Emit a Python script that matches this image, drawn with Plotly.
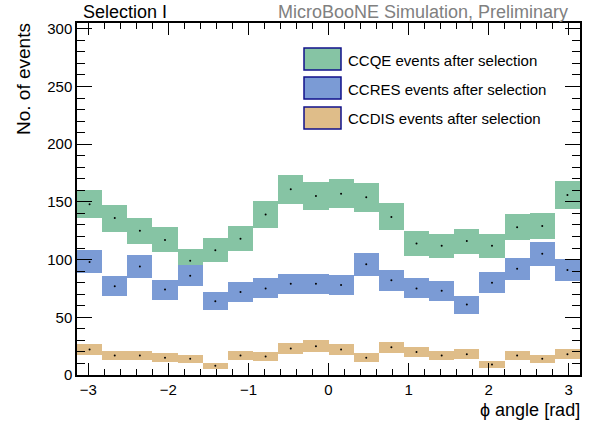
import numpy as np
import plotly.graph_objects as go

# phi binning: 20 equal bins over [-pi, pi]
n_bins = 20
edges = np.linspace(-np.pi, np.pi, n_bins + 1)
centers = 0.5 * (edges[:-1] + edges[1:])
bin_width = edges[1] - edges[0]

ccqe = [148, 136, 125, 117, 99, 108, 118, 139, 161, 155,
        157, 154, 137, 114, 112, 116, 112, 128, 129, 156]
ccres = [98, 77, 94, 74, 86, 64, 72, 75, 79, 79,
         78, 96, 82, 75, 73, 61, 80, 92, 105, 91]
ccdis = [22, 17, 17, 15, 14, 8, 17, 16, 23, 25,
         22, 15, 24, 20, 17, 18, 9, 17, 14, 18]

series = [
    ("CCQE events after selection", ccqe, "#86c4a4"),
    ("CCRES events after selection", ccres, "#7b9bd5"),
    ("CCDIS events after selection", ccdis, "#dfbd89"),
]

fig = go.Figure()
for name, vals, col in series:
    v = np.array(vals, dtype=float)
    err = np.sqrt(v)  # Poisson statistical uncertainty
    fig.add_trace(go.Bar(
        x=centers, y=2 * err, base=v - err, width=bin_width,
        marker=dict(color=col, line=dict(width=0)),
        name=name, showlegend=False, hoverinfo="skip",
    ))
for name, vals, col in series:
    fig.add_trace(go.Scatter(
        x=centers, y=vals, mode="markers",
        marker=dict(color="black", size=2),
        showlegend=False, hoverinfo="skip",
    ))

W, H = 594, 428
L, R, T, B = 77, 580, 23, 375


def px(x):
    return (x - L) / (R - L)


def py(y):
    return (B - y) / (B - T)


# legend: filled boxes with navy border plus labels
shapes = []
annots = []
legend_rows = [(48, 70, 60), (77, 99, 89), (107, 129, 118)]
for (name, _, col), (y0, y1, yt) in zip(series, legend_rows):
    shapes.append(dict(type="rect", xref="paper", yref="paper",
                       x0=px(304), x1=px(341), y0=py(y1), y1=py(y0),
                       fillcolor=col, line=dict(color="#10108a", width=1.5)))
    annots.append(dict(xref="paper", yref="paper", x=px(346), y=py(yt),
                       text=name, showarrow=False, xanchor="left", yanchor="middle",
                       font=dict(size=15, color="black")))

annots.append(dict(xref="paper", yref="paper", x=px(81), y=py(12), text="Selection I",
                   showarrow=False, xanchor="left", yanchor="middle",
                   font=dict(size=18, color="black")))
annots.append(dict(xref="paper", yref="paper", x=px(570), y=py(12),
                   text="MicroBooNE Simulation, Preliminary",
                   showarrow=False, xanchor="right", yanchor="middle",
                   font=dict(size=18, color="#808080")))
annots.append(dict(xref="paper", yref="paper", x=px(582), y=py(410), text="ϕ angle [rad]",
                   showarrow=False, xanchor="right", yanchor="middle",
                   font=dict(size=18, color="black")))
annots.append(dict(xref="paper", yref="paper", x=px(23), y=py(21), text="No. of events",
                   showarrow=False, xanchor="center", yanchor="top", textangle=-90,
                   font=dict(size=19, color="black")))

fig.update_layout(
    width=W, height=H,
    margin=dict(l=L, r=W - R, t=T, b=H - B, pad=0),
    paper_bgcolor="white", plot_bgcolor="white",
    barmode="overlay", bargap=0,
    font=dict(family="Liberation Sans, Arial, sans-serif", color="black"),
    shapes=shapes, annotations=annots,
    xaxis=dict(range=[-np.pi, np.pi], tickmode="linear", tick0=0, dtick=1,
               ticks="inside", ticklen=12, tickwidth=1.3, tickcolor="black",
               showline=True, linecolor="black", linewidth=1.5, mirror="allticks",
               showgrid=False, zeroline=False, tickfont=dict(size=15),
               minor=dict(ticks="inside", dtick=0.2, tick0=0, ticklen=6,
                          tickwidth=1.1, tickcolor="black", showgrid=False)),
    yaxis=dict(range=[0, 305], tickmode="linear", tick0=0, dtick=50,
               ticks="inside", ticklen=15, tickwidth=1.3, tickcolor="black",
               showline=True, linecolor="black", linewidth=1.5, mirror="allticks",
               showgrid=False, zeroline=False, tickfont=dict(size=15),
               minor=dict(ticks="inside", dtick=10, tick0=0, ticklen=8,
                          tickwidth=1.1, tickcolor="black", showgrid=False)),
)

fig.write_html("out.html")
